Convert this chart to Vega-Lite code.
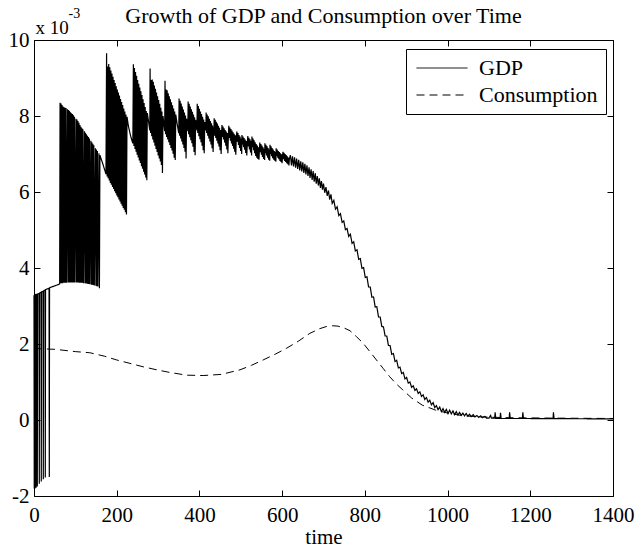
{
  "$schema": "https://vega.github.io/schema/vega-lite/v6.json",
  "width": 579,
  "height": 456,
  "autosize": {"type": "none"},
  "padding": {"left": 34, "top": 40, "right": 26, "bottom": 54},
  "background": "white",
  "config": {
    "view": {"stroke": "black", "strokeWidth": 1},
    "font": "Liberation Serif"
  },
  "title": {
    "text": "Growth of GDP and Consumption over Time",
    "font": "Liberation Serif",
    "fontSize": 22,
    "fontWeight": "normal",
    "color": "black",
    "anchor": "middle",
    "offset": -22
  },
  "datasets": {
    "gdp": [
      {"t":0,"g":3.28},{"t":0.6,"g":-1.8},{"t":1.2,"g":3.28},{"t":2,"g":3.29},{"t":2.5,"g":-1.8},{"t":3,"g":3.29},
      {"t":4.4,"g":3.3},{"t":5,"g":-1.78},{"t":5.6,"g":3.3},{"t":7.4,"g":3.31},{"t":8,"g":-1.75},{"t":8.6,"g":3.31},
      {"t":12.2,"g":3.33},{"t":12.8,"g":-1.68},{"t":13.4,"g":3.34},{"t":17,"g":3.36},{"t":17.6,"g":-1.62},{"t":18.2,"g":3.37},
      {"t":21.9,"g":3.39},{"t":22.5,"g":-1.56},{"t":23.1,"g":3.4},{"t":26.7,"g":3.42},{"t":27.3,"g":-1.51},{"t":27.9,"g":3.43},
      {"t":36.4,"g":3.47},{"t":37,"g":-1.5},{"t":37.6,"g":3.48},{"t":45,"g":3.51},{"t":55,"g":3.55},{"t":62,"g":3.58},
      {"t":63,"g":8.35},{"t":64.2,"g":3.6},{"t":65.4,"g":8.33},{"t":66.6,"g":3.6},{"t":67.8,"g":8.29},{"t":69,"g":3.6},
      {"t":70.2,"g":8.25},{"t":71.4,"g":3.61},{"t":72.6,"g":8.23},{"t":73.8,"g":3.61},{"t":75,"g":8.22},{"t":76.2,"g":3.61},
      {"t":77.4,"g":8.21},{"t":78.6,"g":3.61},{"t":81,"g":8.18},{"t":82.2,"g":3.62},{"t":83.4,"g":8.16},{"t":84.6,"g":3.62},
      {"t":85.8,"g":8.13},{"t":87,"g":3.62},{"t":88.2,"g":8.1},{"t":89.4,"g":3.62},{"t":90.6,"g":8.07},{"t":91.8,"g":3.62},
      {"t":93,"g":8.05},{"t":94.2,"g":3.62},{"t":95.4,"g":8.02},{"t":96.6,"g":3.62},{"t":97.8,"g":7.98},{"t":99,"g":3.62},
      {"t":101.5,"g":7.93},{"t":102.7,"g":3.62},{"t":103.9,"g":7.91},{"t":105.1,"g":3.62},{"t":106.3,"g":7.87},{"t":107.5,"g":3.62},
      {"t":108.7,"g":7.82},{"t":109.9,"g":3.61},{"t":111.1,"g":7.76},{"t":112.3,"g":3.61},{"t":113.5,"g":7.72},{"t":114.7,"g":3.61},
      {"t":115.9,"g":7.68},{"t":117.1,"g":3.61},{"t":118.3,"g":7.65},{"t":119.5,"g":3.6},{"t":122,"g":7.6},{"t":123.2,"g":3.6},
      {"t":124.4,"g":7.56},{"t":125.6,"g":3.59},{"t":126.8,"g":7.52},{"t":128,"g":3.59},{"t":129.2,"g":7.48},{"t":130.4,"g":3.58},
      {"t":131.6,"g":7.45},{"t":132.8,"g":3.58},{"t":134,"g":7.41},{"t":135.2,"g":3.57},{"t":137.5,"g":7.35},{"t":138.7,"g":3.56},
      {"t":139.9,"g":7.31},{"t":141.1,"g":3.56},{"t":142.3,"g":7.27},{"t":143.5,"g":3.55},{"t":144.7,"g":7.23},{"t":145.9,"g":3.54},
      {"t":148.5,"g":7.15},{"t":149.7,"g":3.53},{"t":150.9,"g":7.12},{"t":152.1,"g":3.52},{"t":153.3,"g":7.08},{"t":154.5,"g":3.51},
      {"t":157,"g":7.02},{"t":158.2,"g":3.47},{"t":159.4,"g":6.97},
      {"t":163,"g":6.85},{"t":167,"g":6.72},{"t":171,"g":6.58},
      {"t":174,"g":6.47},{"t":175.5,"g":9.65},{"t":176.8,"g":6.41},{"t":178.1,"g":9.3},{"t":179.4,"g":6.36},{"t":180.7,"g":9.37},
      {"t":182,"g":6.3},{"t":183.3,"g":9.28},{"t":184.6,"g":6.24},{"t":185.9,"g":9.2},{"t":187.2,"g":6.19},{"t":188.5,"g":9.12},
      {"t":189.8,"g":6.13},{"t":191.1,"g":9.03},{"t":192.4,"g":6.08},{"t":193.7,"g":8.95},{"t":195,"g":6.02},{"t":196.3,"g":8.87},
      {"t":197.6,"g":5.97},{"t":198.9,"g":8.78},{"t":200.2,"g":5.91},{"t":201.5,"g":8.7},{"t":202.8,"g":5.86},{"t":204.1,"g":8.62},
      {"t":205.4,"g":5.8},{"t":206.7,"g":8.54},{"t":208,"g":5.75},{"t":209.3,"g":8.45},{"t":210.6,"g":5.69},{"t":211.9,"g":8.37},
      {"t":213.2,"g":5.64},{"t":214.5,"g":8.29},{"t":215.8,"g":5.58},{"t":217.1,"g":8.2},{"t":218.4,"g":5.53},{"t":219.7,"g":8.12},
      {"t":221,"g":5.47},{"t":222.3,"g":8.04},{"t":223.6,"g":5.41},{"t":224.9,"g":7.98},
      {"t":228,"g":7.75},{"t":232,"g":7.55},{"t":236,"g":7.38},
      {"t":239,"g":7.28},{"t":240.3,"g":9.36},{"t":241.6,"g":7.21},{"t":242.9,"g":9.26},{"t":244.2,"g":7.13},{"t":245.5,"g":9.16},
      {"t":246.8,"g":7.06},{"t":248.1,"g":9.06},{"t":249.4,"g":6.98},{"t":250.7,"g":8.95},{"t":252,"g":6.91},{"t":253.3,"g":8.85},
      {"t":254.6,"g":6.83},{"t":255.9,"g":8.75},{"t":257.2,"g":6.76},{"t":258.5,"g":8.65},{"t":259.8,"g":6.68},{"t":261.1,"g":8.55},
      {"t":262.4,"g":6.61},{"t":263.7,"g":8.44},{"t":265,"g":6.53},{"t":266.3,"g":8.34},{"t":267.6,"g":6.46},{"t":268.9,"g":8.24},
      {"t":270.2,"g":6.38},{"t":271.5,"g":8.13},{"t":272.8,"g":6.31},{"t":274,"g":8.08},
      {"t":277,"g":7.85},
      {"t":280,"g":7.62},{"t":280.7,"g":9.25},{"t":282,"g":7.55},{"t":283.3,"g":8.95},{"t":284.6,"g":7.47},{"t":285.9,"g":8.96},
      {"t":287.2,"g":7.38},{"t":288.5,"g":8.9},{"t":289.8,"g":7.3},{"t":291.1,"g":8.8},{"t":292.4,"g":7.22},{"t":293.7,"g":8.72},
      {"t":295,"g":7.13},{"t":296.3,"g":8.62},{"t":297.6,"g":7.05},{"t":298.9,"g":8.52},{"t":300.2,"g":6.96},{"t":301.5,"g":8.42},
      {"t":302.8,"g":6.88},{"t":304.1,"g":8.32},{"t":305.4,"g":6.8},{"t":306.7,"g":8.22},{"t":308,"g":6.71},{"t":309.3,"g":8.12},
      {"t":310.6,"g":6.5},{"t":311.9,"g":8.0},
      {"t":314,"g":7.8},
      {"t":316,"g":7.6},{"t":316.8,"g":8.93},{"t":318.1,"g":7.52},{"t":319.4,"g":8.7},{"t":320.7,"g":7.45},{"t":322,"g":8.68},
      {"t":323.3,"g":7.38},{"t":324.6,"g":8.6},{"t":325.9,"g":7.31},{"t":327.2,"g":8.52},{"t":328.5,"g":7.24},{"t":329.8,"g":8.44},
      {"t":331.1,"g":7.16},{"t":332.4,"g":8.36},{"t":333.7,"g":7.09},{"t":335,"g":8.28},{"t":336.3,"g":7.01},{"t":337.6,"g":8.2},
      {"t":338.9,"g":6.9},{"t":340.2,"g":8.12},{"t":341.5,"g":6.84},{"t":342.8,"g":8.04},
      {"t":346,"g":7.8},
      {"t":350,"g":7.55},{"t":350.8,"g":8.46},{"t":352.1,"g":7.48},{"t":353.4,"g":8.4},{"t":354.7,"g":7.41},{"t":356,"g":8.33},
      {"t":357.3,"g":7.33},{"t":358.6,"g":8.25},{"t":359.9,"g":7.25},{"t":361.2,"g":8.17},{"t":362.5,"g":7.16},{"t":363.8,"g":8.09},
      {"t":365.1,"g":7.06},{"t":366.4,"g":8.01},{"t":367.7,"g":6.88},{"t":369,"g":7.93},
      {"t":371,"g":7.75},
      {"t":372,"g":7.6},{"t":372.7,"g":8.38},{"t":374,"g":7.52},{"t":375.3,"g":8.32},{"t":376.6,"g":7.44},{"t":377.9,"g":8.25},
      {"t":379.2,"g":7.36},{"t":380.5,"g":8.18},{"t":381.8,"g":7.28},{"t":383.1,"g":8.11},{"t":384.4,"g":7.19},{"t":385.7,"g":8.04},
      {"t":387,"g":7.05},{"t":388.3,"g":7.97},{"t":389.6,"g":6.97},{"t":390.9,"g":7.9},
      {"t":393,"g":7.72},
      {"t":394,"g":7.62},{"t":394.7,"g":8.32},{"t":396,"g":7.55},{"t":397.3,"g":8.26},{"t":398.6,"g":7.47},{"t":399.9,"g":8.19},
      {"t":401.2,"g":7.39},{"t":402.5,"g":8.12},{"t":403.8,"g":7.31},{"t":405.1,"g":8.05},{"t":406.4,"g":7.22},{"t":407.7,"g":7.98},
      {"t":409,"g":7.1},{"t":410.3,"g":7.91},{"t":411.6,"g":7.02},{"t":412.9,"g":7.84},
      {"t":414.5,"g":7.7},
      {"t":415.5,"g":7.62},{"t":416.2,"g":8.09},{"t":417.5,"g":7.55},{"t":418.8,"g":8.04},{"t":420.1,"g":7.48},{"t":421.4,"g":7.99},
      {"t":422.7,"g":7.41},{"t":424,"g":7.93},{"t":425.3,"g":7.33},{"t":426.6,"g":7.87},{"t":427.9,"g":7.25},{"t":429.2,"g":7.81},
      {"t":430.5,"g":7.15},{"t":431.8,"g":7.75},{"t":433.1,"g":7.05},{"t":434.4,"g":7.7},
      {"t":435,"g":7.55},{"t":435.6,"g":7.94},{"t":436.9,"g":7.48},{"t":438.2,"g":7.9},{"t":439.5,"g":7.42},{"t":440.8,"g":7.85},
      {"t":442.1,"g":7.35},{"t":443.4,"g":7.8},{"t":444.7,"g":7.28},{"t":446,"g":7.74},{"t":447.3,"g":7.2},{"t":448.6,"g":7.69},
      {"t":449.9,"g":7.1},{"t":451.2,"g":7.63},{"t":452.5,"g":7.0},{"t":453.8,"g":7.58},
      {"t":454.5,"g":7.76},{"t":455.8,"g":7.45},{"t":457.1,"g":7.72},{"t":458.4,"g":7.38},{"t":459.7,"g":7.68},{"t":461,"g":7.3},
      {"t":462.3,"g":7.63},{"t":463.6,"g":7.22},{"t":464.9,"g":7.59},{"t":466.2,"g":7.12},{"t":467.5,"g":7.55},{"t":468.8,"g":7.02},
      {"t":470.1,"g":7.5},
      {"t":471,"g":7.74},{"t":472.3,"g":7.42},{"t":473.6,"g":7.7},{"t":474.9,"g":7.35},{"t":476.2,"g":7.66},{"t":477.5,"g":7.28},
      {"t":478.8,"g":7.62},{"t":480.1,"g":7.21},{"t":481.4,"g":7.57},{"t":482.7,"g":7.14},{"t":484,"g":7.53},{"t":485.3,"g":7.06},
      {"t":486.6,"g":7.49},{"t":487.9,"g":6.98},{"t":489.2,"g":7.45},
      {"t":490.5,"g":7.59},{"t":491.8,"g":7.32},{"t":493.1,"g":7.55},{"t":494.4,"g":7.24},{"t":495.7,"g":7.5},{"t":497,"g":7.16},
      {"t":498.3,"g":7.46},{"t":499.6,"g":7.08},{"t":500.9,"g":7.41},{"t":502.2,"g":7.0},
      {"t":502.8,"g":7.5},{"t":504.1,"g":7.25},{"t":505.4,"g":7.46},{"t":506.7,"g":7.18},{"t":508,"g":7.42},{"t":509.3,"g":7.11},
      {"t":510.6,"g":7.38},{"t":511.9,"g":7.03},{"t":513.2,"g":7.34},{"t":514.5,"g":6.96},{"t":515.8,"g":7.3},
      {"t":517,"g":7.47},{"t":518.3,"g":7.2},{"t":519.6,"g":7.43},{"t":520.9,"g":7.12},{"t":522.2,"g":7.39},{"t":523.5,"g":7.04},
      {"t":524.8,"g":7.35},{"t":526.1,"g":6.96},
      {"t":527,"g":7.46},{"t":528.3,"g":7.18},{"t":529.6,"g":7.41},{"t":530.9,"g":7.1},{"t":532.2,"g":7.36},{"t":533.5,"g":7.02},
      {"t":534.8,"g":7.31},{"t":536.1,"g":6.95},{"t":537.4,"g":7.26},{"t":538.7,"g":6.9},{"t":540,"g":7.22},{"t":541.3,"g":6.87},
      {"t":542.6,"g":7.18},{"t":543.9,"g":6.85},{"t":545.2,"g":7.14},
      {"t":546,"g":7.3},{"t":547.3,"g":7.05},{"t":548.6,"g":7.26},{"t":549.9,"g":6.98},{"t":551.2,"g":7.22},{"t":552.5,"g":6.92},
      {"t":553.8,"g":7.18},{"t":555.1,"g":6.87},{"t":556.4,"g":7.14},{"t":557.7,"g":6.84},
      {"t":558.3,"g":7.28},{"t":559.6,"g":7.02},{"t":560.9,"g":7.24},{"t":562.2,"g":6.96},{"t":563.5,"g":7.2},{"t":564.8,"g":6.9},
      {"t":566.1,"g":7.16},{"t":567.4,"g":6.85},{"t":568.7,"g":7.12},{"t":570,"g":6.82},
      {"t":570.6,"g":7.24},{"t":571.9,"g":7.0},{"t":573.2,"g":7.2},{"t":574.5,"g":6.94},{"t":575.8,"g":7.16},{"t":577.1,"g":6.89},
      {"t":578.4,"g":7.12},{"t":579.7,"g":6.85},{"t":581,"g":7.08},{"t":582.3,"g":6.82},{"t":583.6,"g":7.05},{"t":584.9,"g":6.8},
      {"t":585.5,"g":7.15},{"t":586.8,"g":6.95},{"t":588.1,"g":7.12},{"t":589.4,"g":6.9},{"t":590.7,"g":7.08},{"t":592,"g":6.86},
      {"t":593.3,"g":7.05},{"t":594.6,"g":6.82},{"t":595.9,"g":7.02},{"t":597.2,"g":6.79},{"t":598.5,"g":6.99},{"t":599.8,"g":6.76},
      {"t":601.1,"g":6.96},
      {"t":602,"g":7.06},{"t":603.3,"g":6.86},{"t":604.6,"g":7.03},{"t":605.9,"g":6.82},{"t":607.2,"g":7.0},{"t":608.5,"g":6.79},
      {"t":609.8,"g":6.97},{"t":611.1,"g":6.76},{"t":612.4,"g":6.94},{"t":613.7,"g":6.73},{"t":615,"g":6.91},{"t":616.3,"g":6.7},
      {"t":617.6,"g":6.88},
      {"t":620,"g":6.97},{"t":622.5,"g":6.7},{"t":625,"g":6.94},{"t":627.5,"g":6.67},{"t":630,"g":6.91},{"t":632.5,"g":6.64},
      {"t":635,"g":6.88},{"t":637.5,"g":6.61},{"t":640,"g":6.85},{"t":642.5,"g":6.57},{"t":645,"g":6.81},{"t":647.5,"g":6.54},
      {"t":650,"g":6.78},{"t":652.5,"g":6.5},{"t":655,"g":6.74},{"t":657.5,"g":6.46},{"t":660,"g":6.7},{"t":662.5,"g":6.42},
      {"t":665,"g":6.65},{"t":667.5,"g":6.37},{"t":670,"g":6.6},{"t":672.5,"g":6.32},{"t":675,"g":6.55},{"t":677.5,"g":6.27},
      {"t":680,"g":6.49},{"t":682.5,"g":6.22},{"t":685,"g":6.42},{"t":687.5,"g":6.17},{"t":690,"g":6.36},{"t":692.5,"g":6.11},
      {"t":695,"g":6.29},{"t":697.5,"g":6.06},{"t":700,"g":6.22},{"t":703,"g":5.98},{"t":706,"g":6.13},{"t":709,"g":5.9},
      {"t":712,"g":6.04},{"t":715,"g":5.8},{"t":718,"g":5.94},{"t":721,"g":5.7},
      {"t":725,"g":5.78},{"t":729,"g":5.55},{"t":733,"g":5.61},{"t":737,"g":5.38},{"t":741,"g":5.43},{"t":745,"g":5.2},
      {"t":749,"g":5.24},{"t":753,"g":5.01},{"t":757,"g":5.04},{"t":761,"g":4.83},{"t":765,"g":4.89},{"t":769,"g":4.65},
      {"t":773,"g":4.69},{"t":777,"g":4.45},{"t":781,"g":4.48},{"t":785,"g":4.23},{"t":789,"g":4.25},{"t":793,"g":3.99},
      {"t":797,"g":4.01},{"t":801,"g":3.75},{"t":805,"g":3.77},{"t":809,"g":3.5},{"t":813,"g":3.5},{"t":817,"g":3.23},
      {"t":821,"g":3.24},{"t":825,"g":2.97},{"t":829,"g":2.98},{"t":833,"g":2.71},{"t":837,"g":2.71},{"t":841,"g":2.46},
      {"t":845,"g":2.45},{"t":849,"g":2.21},{"t":853,"g":2.21},{"t":857,"g":1.96},{"t":861,"g":1.96},{"t":865,"g":1.73},
      {"t":869,"g":1.75},{"t":873,"g":1.54},{"t":877,"g":1.57},{"t":881,"g":1.37},{"t":885,"g":1.39},{"t":889,"g":1.22},
      {"t":893,"g":1.25},{"t":897,"g":1.08},{"t":901,"g":1.12},{"t":905,"g":0.97},{"t":909,"g":1.0},{"t":913,"g":0.86},
      {"t":917,"g":0.9},{"t":921,"g":0.78},{"t":925,"g":0.82},{"t":929,"g":0.7},{"t":933,"g":0.74},{"t":937,"g":0.62},
      {"t":941,"g":0.66},{"t":945,"g":0.54},{"t":949,"g":0.59},{"t":953,"g":0.47},{"t":957,"g":0.52},{"t":961,"g":0.4},
      {"t":965,"g":0.46},{"t":969,"g":0.33},{"t":973,"g":0.38},{"t":977,"g":0.27},{"t":981,"g":0.34},{"t":985,"g":0.22},
      {"t":989,"g":0.3},{"t":993,"g":0.2},{"t":997,"g":0.28},{"t":1001,"g":0.17},{"t":1005,"g":0.26},{"t":1009,"g":0.16},
      {"t":1013,"g":0.24},{"t":1017,"g":0.14},{"t":1021,"g":0.22},{"t":1025,"g":0.13},{"t":1029,"g":0.2},{"t":1033,"g":0.12},
      {"t":1037,"g":0.18},{"t":1041,"g":0.11},{"t":1045,"g":0.17},{"t":1049,"g":0.1},{"t":1053,"g":0.15},{"t":1057,"g":0.09},
      {"t":1062,"g":0.14},{"t":1066,"g":0.08},{"t":1071,"g":0.12},{"t":1075,"g":0.07},{"t":1080,"g":0.11},{"t":1084,"g":0.06},
      {"t":1090,"g":0.1},{"t":1094,"g":0.05},{"t":1100,"g":0.05},{"t":1104,"g":0.12},{"t":1106,"g":0.05},{"t":1114,"g":0.05},
      {"t":1115,"g":0.2},{"t":1116.5,"g":0.04},{"t":1127,"g":0.04},{"t":1128,"g":0.19},{"t":1129.5,"g":0.04},{"t":1149,"g":0.04},
      {"t":1150,"g":0.2},{"t":1151.5,"g":0.04},{"t":1181,"g":0.04},{"t":1182,"g":0.2},{"t":1183.5,"g":0.04},{"t":1255,"g":0.035},
      {"t":1256,"g":0.2},{"t":1257.5,"g":0.035},{"t":1400,"g":0.03}
    ],
    "consumption": [
      {"t":0,"c":1.88},{"t":51,"c":1.86},{"t":100,"c":1.8},{"t":135,"c":1.77},{"t":170,"c":1.68},{"t":200,"c":1.58},
      {"t":232,"c":1.49},{"t":264,"c":1.4},{"t":297,"c":1.32},{"t":329,"c":1.25},{"t":369,"c":1.18},{"t":409,"c":1.17},
      {"t":453,"c":1.2},{"t":498,"c":1.32},{"t":526,"c":1.44},{"t":554,"c":1.58},{"t":583,"c":1.73},{"t":611,"c":1.89},
      {"t":640,"c":2.08},{"t":667,"c":2.28},{"t":690,"c":2.4},{"t":707,"c":2.46},{"t":722,"c":2.48},{"t":735,"c":2.47},
      {"t":750,"c":2.42},{"t":764,"c":2.35},{"t":780,"c":2.19},{"t":796,"c":2.02},{"t":812,"c":1.8},{"t":828,"c":1.58},
      {"t":844,"c":1.36},{"t":860,"c":1.14},{"t":876,"c":0.95},{"t":892,"c":0.79},{"t":913,"c":0.58},{"t":939,"c":0.39},
      {"t":971,"c":0.26},{"t":1005,"c":0.17},{"t":1040,"c":0.11},{"t":1080,"c":0.08},{"t":1150,"c":0.06},{"t":1250,"c":0.05},
      {"t":1400,"c":0.04}
    ]
  },
  "layer": [
    {
      "data": {"name": "gdp"},
      "mark": {"type": "line", "color": "black", "strokeWidth": 1.2},
      "encoding": {
        "x": {
          "field": "t", "type": "quantitative",
          "scale": {"domain": [0, 1400], "nice": false, "zero": false},
          "axis": {
            "orient": "bottom", "values": [0, 200, 400, 600, 800, 1000, 1200, 1400],
            "labelExpr": "'' + datum.value", "labelOverlap": false, "labelFlush": false,
            "domain": false, "grid": false, "tickSize": -6, "tickColor": "black", "tickWidth": 1,
            "labelPadding": 14, "labelFont": "Liberation Serif", "labelFontSize": 21, "labelColor": "black",
            "title": "time", "titleFont": "Liberation Serif", "titleFontSize": 21, "titleFontWeight": "normal",
            "titleColor": "black", "titlePadding": 1
          }
        },
        "y": {
          "field": "g", "type": "quantitative",
          "scale": {"domain": [-2, 10], "nice": false, "zero": false},
          "axis": {
            "orient": "left", "values": [-2, 0, 2, 4, 6, 8, 10],
            "labelExpr": "'' + datum.value", "labelOverlap": false, "labelFlush": false,
            "domain": false, "grid": false, "tickSize": -6, "tickColor": "black", "tickWidth": 1,
            "labelPadding": 11, "labelFont": "Liberation Serif", "labelFontSize": 21, "labelColor": "black",
            "title": "x 10", "titleAngle": 0, "titleX": 1, "titleY": -7, "titleAlign": "left",
            "titleBaseline": "alphabetic", "titleFont": "Liberation Serif", "titleFontSize": 19,
            "titleFontWeight": "normal", "titleColor": "black"
          }
        },
        "strokeDash": {
          "datum": "GDP", "type": "nominal",
          "scale": {"domain": ["GDP", "Consumption"], "range": [[1, 0], [8, 5]]},
          "legend": {
            "orient": "none", "legendX": 372, "legendY": 9, "title": null,
            "symbolType": "M-1,0H5", "symbolSize": 289, "symbolStrokeWidth": 1,
            "symbolStrokeColor": "black", "symbolFillColor": "transparent",
            "labelFont": "Liberation Serif", "labelFontSize": 22, "labelColor": "black",
            "labelOffset": 43, "fillColor": "white", "strokeColor": "black",
            "padding": 8, "rowPadding": 5
          }
        }
      }
    },
    {
      "data": {"name": "consumption"},
      "mark": {"type": "line", "color": "black", "strokeWidth": 1},
      "encoding": {
        "x": {
          "field": "t", "type": "quantitative",
          "scale": {"domain": [0, 1400], "nice": false, "zero": false},
          "axis": {
            "orient": "top", "values": [0, 200, 400, 600, 800, 1000, 1200, 1400],
            "labels": false, "domain": false, "grid": false, "tickSize": -6,
            "tickColor": "black", "tickWidth": 1, "title": null
          }
        },
        "y": {
          "field": "c", "type": "quantitative",
          "scale": {"domain": [-2, 10], "nice": false, "zero": false},
          "axis": {
            "orient": "right", "values": [-2, 0, 2, 4, 6, 8, 10],
            "labels": false, "domain": false, "grid": false, "tickSize": -6,
            "tickColor": "black", "tickWidth": 1,
            "title": "-3", "titleAngle": 0, "titleX": -545, "titleY": -23, "titleAlign": "left",
            "titleBaseline": "alphabetic", "titleFont": "Liberation Serif", "titleFontSize": 14,
            "titleFontWeight": "normal", "titleColor": "black"
          }
        },
        "strokeDash": {"datum": "Consumption", "type": "nominal"}
      }
    }
  ],
  "resolve": {"axis": {"x": "independent", "y": "independent"}}
}
